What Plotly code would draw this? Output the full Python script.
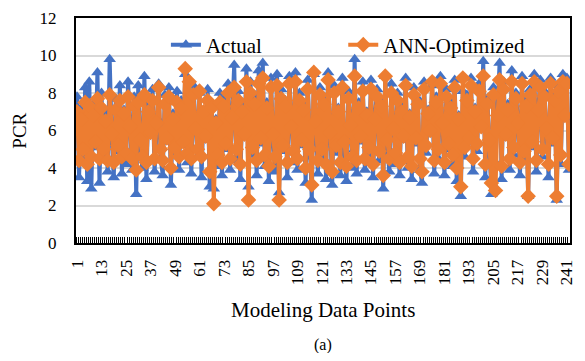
import plotly.graph_objects as go

actual = [
    7.8, 3.5, 7.2, 4.6, 8.3, 3.3, 8.6, 2.9, 7.4, 5.1, 9.1, 3.2,
    8.0, 4.4, 6.9, 3.8, 9.8, 5.6, 3.5, 7.7, 4.9, 8.4, 3.7, 7.1,
    4.2, 8.6, 6.3, 3.9, 7.8, 2.6, 8.4, 5.2, 4.0, 8.9, 3.4, 7.5,
    5.8, 8.2, 3.8, 6.7, 8.5, 4.5, 3.6, 7.9, 5.4, 8.3, 3.1, 6.9,
    4.8, 8.1, 3.9, 7.6, 5.2, 9.0, 4.3, 7.3, 3.7, 8.4, 6.0, 4.6,
    8.0, 3.5, 7.1, 5.5, 8.2, 3.0, 7.4, 2.9, 6.6, 4.1, 8.0, 3.6,
    7.7, 5.0, 8.5, 3.9, 6.8, 9.5, 4.4, 8.1, 3.4, 7.3, 5.9, 9.3,
    3.0, 8.6, 4.7, 7.9, 3.6, 9.2, 5.3, 9.6, 4.1, 7.5, 3.3, 8.8,
    5.6, 3.8, 9.0, 2.7, 8.2, 4.9, 7.6, 3.5, 8.9, 6.1, 4.3, 9.1,
    3.9, 8.0, 5.2, 7.4, 3.2, 8.7, 4.6, 2.3, 9.0, 6.4, 3.7, 8.3,
    4.5, 7.8, 3.4, 9.1, 5.7, 3.1, 8.4, 4.8, 7.2, 3.6, 8.8, 5.0,
    3.3, 8.1, 6.2, 4.0, 9.8, 3.7, 7.5, 5.4, 8.6, 3.9, 7.0, 4.7,
    8.7, 3.5, 6.8, 8.2, 4.4, 7.6, 2.9, 8.9, 5.1, 3.8, 8.5, 6.0,
    4.2, 8.0, 3.6, 7.3, 5.5, 8.8, 4.0, 6.9, 3.4, 8.3, 5.3, 7.7,
    3.9, 3.2, 8.6, 4.8, 7.1, 5.9, 8.4, 3.7, 7.8, 4.5, 8.9, 6.3,
    3.6, 8.2, 5.0, 7.5, 4.1, 8.7, 3.3, 6.8, 2.5, 8.1, 4.6, 7.9,
    5.4, 8.8, 3.8, 7.2, 4.9, 8.5, 6.1, 9.7, 3.5, 7.7, 5.2, 2.6,
    8.3, 4.3, 7.0, 9.6, 3.4, 8.6, 5.6, 7.4, 3.9, 9.2, 4.7, 8.0,
    6.5, 3.6, 8.9, 4.4, 7.6, 2.5, 8.2, 5.1, 9.0, 3.8, 7.3, 8.7,
    4.6, 8.1, 6.0, 3.5, 8.8, 5.3, 7.9, 2.3, 8.4, 4.2, 9.0, 6.7,
    8.8, 3.9,
]

ann_optimized = [
    7.0, 4.4, 6.6, 5.0, 7.5, 4.2, 7.3, 4.6, 6.8, 5.4, 7.7, 4.5,
    7.2, 5.0, 6.5, 4.4, 7.9, 5.8, 4.3, 7.1, 5.2, 7.6, 4.6, 6.9,
    4.8, 7.8, 6.2, 4.5, 7.3, 3.9, 7.5, 5.5, 4.6, 7.9, 4.3, 7.0,
    5.9, 7.6, 4.5, 6.4, 8.3, 5.0, 4.4, 7.4, 5.6, 7.8, 4.0, 6.6,
    5.1, 7.5, 4.6, 7.2, 5.4, 9.3, 4.8, 8.6, 4.5, 7.9, 6.1, 5.0,
    8.1, 4.6, 7.0, 5.7, 7.6, 3.8, 7.2, 2.1, 6.4, 4.7, 7.5, 4.3,
    7.3, 5.3, 8.0, 4.5, 6.7, 8.3, 5.0, 7.6, 4.2, 7.0, 5.8, 8.6,
    2.3, 8.0, 5.1, 7.4, 4.4, 8.5, 5.6, 8.8, 4.7, 7.2, 4.1, 8.3,
    5.8, 4.6, 8.4, 2.3, 7.7, 5.2, 7.3, 4.3, 8.5, 6.2, 4.9, 8.6,
    4.5, 7.6, 5.5, 7.1, 4.0, 8.2, 5.0, 3.1, 9.1, 6.5, 4.4, 7.9,
    5.0, 7.4, 4.2, 8.7, 5.9, 3.8, 8.0, 5.2, 7.0, 4.3, 8.3, 5.4,
    4.1, 7.7, 6.3, 4.6, 8.9, 4.4, 7.2, 5.7, 8.1, 4.5, 6.8, 5.1,
    8.2, 4.2, 6.6, 7.8, 4.9, 7.3, 3.6, 8.9, 5.5, 4.5, 8.0, 6.1,
    4.8, 7.6, 4.3, 7.0, 5.7, 8.4, 4.6, 6.7, 4.1, 7.9, 5.6, 7.4,
    4.5, 3.8, 8.2, 5.2, 6.9, 6.0, 8.6, 4.4, 7.5, 5.0, 8.5, 6.4,
    4.3, 7.8, 5.3, 7.2, 4.7, 8.3, 4.0, 6.6, 3.0, 8.8, 5.1, 7.6,
    5.6, 8.4, 4.5, 7.0, 5.3, 8.1, 6.2, 8.9, 4.2, 7.4, 5.5, 3.2,
    7.9, 2.8, 6.8, 8.7, 4.1, 8.2, 5.8, 7.1, 4.5, 8.6, 5.1, 7.7,
    6.4, 4.3, 8.5, 4.9, 7.3, 2.5, 7.9, 5.4, 8.6, 4.4, 7.1, 8.3,
    5.0, 7.8, 6.1, 4.2, 8.5, 5.6, 7.6, 2.5, 8.1, 4.7, 8.6, 6.8,
    8.5, 4.2,
]

points = list(range(1, len(actual) + 1))
tick_vals = list(range(1, len(actual) + 1, 12))
tick_text = [str(v) for v in tick_vals]
y_ticks = [0, 2, 4, 6, 8, 10, 12]

BLUE = "#4472C4"
ORANGE = "#ED7D31"
FONT = "Liberation Serif, Times New Roman, serif"

fig = go.Figure()
fig.add_trace(go.Scatter(
    x=points, y=actual, name="Actual", mode="lines+markers",
    line=dict(color=BLUE, width=4),
    marker=dict(symbol="triangle-up", size=11, color=BLUE),
    legend="legend",
))
fig.add_trace(go.Scatter(
    x=points, y=ann_optimized, name="ANN-Optimized", mode="lines+markers",
    line=dict(color=ORANGE, width=4),
    marker=dict(symbol="diamond", size=12, color=ORANGE),
    legend="legend2",
))

leg_common = dict(orientation="h", y=0.88, yanchor="middle",
                  bgcolor="rgba(0,0,0,0)", font=dict(size=21, family=FONT))

# page body has an 8px margin: keep the figure inside the 585x361 window
fig.update_layout(
    width=569, height=345,
    margin=dict(l=68, r=7, t=10, b=110, autoexpand=False),
    paper_bgcolor="white", plot_bgcolor="white",
    font=dict(family=FONT, size=17, color="black"),
    showlegend=True,
    legend=dict(x=0.182, xanchor="left", **leg_common),
    legend2=dict(x=0.541, xanchor="left", **leg_common),
    annotations=[
        dict(text="Modeling Data Points", xref="paper", yref="paper",
             x=0.5, y=-0.298, xanchor="center", yanchor="middle",
             showarrow=False, font=dict(size=21, family=FONT)),
        dict(text="(a)", xref="paper", yref="paper", x=0.5, y=-0.455,
             xanchor="center", yanchor="middle", showarrow=False,
             font=dict(size=16, family=FONT)),
        dict(text="PCR", xref="paper", yref="paper", x=-0.115, y=0.5,
             xanchor="center", yanchor="middle", textangle=-90,
             showarrow=False, font=dict(size=19, family=FONT)),
    ],
)
fig.update_xaxes(
    automargin=False,
    range=[0.5, len(actual) + 0.5],
    tickmode="array", tickvals=tick_vals, ticktext=tick_text,
    tickangle=-90, tickfont=dict(size=17, family=FONT),
    ticklabeloverflow="allow",
    ticks="", showgrid=False, zeroline=False, ticklabelstandoff=8,
    showline=True, linecolor="black", linewidth=2, mirror=True,
    minor=dict(ticks="inside", dtick=1, tick0=0.5, ticklen=6,
               tickwidth=1, tickcolor="black", showgrid=False),
)
fig.update_yaxes(
    automargin=False,
    range=[0, 12], tickvals=y_ticks,
    tickfont=dict(size=17, family=FONT),
    showgrid=True, gridcolor="#d9d9d9", gridwidth=1.5, zeroline=False,
    showline=True, linecolor="black", linewidth=2, mirror=True,
    ticks="", ticklabelstandoff=14,
)

fig.write_html("out.html")
